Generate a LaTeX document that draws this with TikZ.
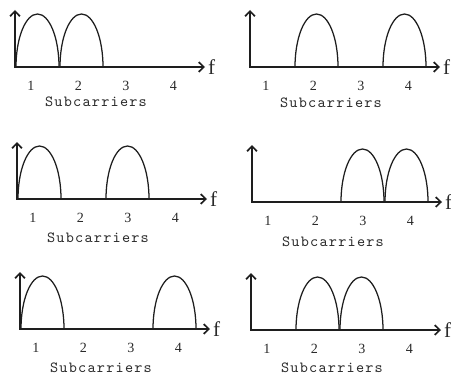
\documentclass[tikz,border=0pt]{standalone}
\usepackage{fontspec}
\setmainfont{Liberation Serif}
\newfontfamily\subfont[LetterSpace=8]{lmmono10-regular.otf}
\usetikzlibrary{arrows.meta}
\definecolor{lineblk}{HTML}{1E1E1E}
\definecolor{textblk}{HTML}{2A2A2A}

\begin{document}
\begin{tikzpicture}[
    x=0.025cm, y=0.025cm,
    >={Straight Barb[length=3.6pt, width=7pt, line width=1.2pt]},
    every node/.style={text=textblk, inner sep=0pt},
    axisline/.style={lineblk, line width=1.3pt},
    lobe/.style={lineblk, line width=0.9pt},
    numlbl/.style={font=\fontsize{10}{12}\selectfont},
    sublbl/.style={font=\fontsize{11}{13}\subfont},
    freqlbl/.style={font=\fontsize{15}{17}\selectfont, anchor=west, xshift=2pt},
  ]

  % ══════════════════════════════════════════════════════
  % Page frame (451 x 376 units)
  % ══════════════════════════════════════════════════════
  \useasboundingbox (0,0) rectangle (451,376);

  % ══════════════════════════════════════════════════════
  % Six spectrum panels
  % origin x / origin y / first lobe / second lobe / label drop
  % ══════════════════════════════════════════════════════
  \foreach \ox/\oy/\ka/\kb/\sy [count=\p] in
      {15/309/1/2/35, 250/309/2/4/36, 17/177/1/3/39,
       252/174/3/4/40, 20/47/1/4/39, 251/46/2/3/38}{
    \begin{scope}[shift={(\ox,\oy)}]

      % axes
      \coordinate (o\p) at (0,0);
      \coordinate (yt\p) at (0,57);
      \coordinate (xt\p) at (190,0);
      \draw[axisline, <->] (yt\p) -- (o\p) -- (xt\p);
      \node[freqlbl] (f\p) at (xt\p) {f};

      % active subcarrier lobes
      \foreach \k in {\ka,\kb}{
        \draw[lobe] ({44*\k-43},0)
          arc[start angle=180, end angle=0, x radius=21.5, y radius=53];
      }

      % subcarrier numbers
      \foreach \k in {1,...,4}{
        \node[numlbl] (d\p-\k) at ({16+47.5*(\k-1)},-19) {\k};
      }
      \node[sublbl] (s\p) at (81,-\sy) {Subcarriers};

    \end{scope}
  }

\end{tikzpicture}
\end{document}
